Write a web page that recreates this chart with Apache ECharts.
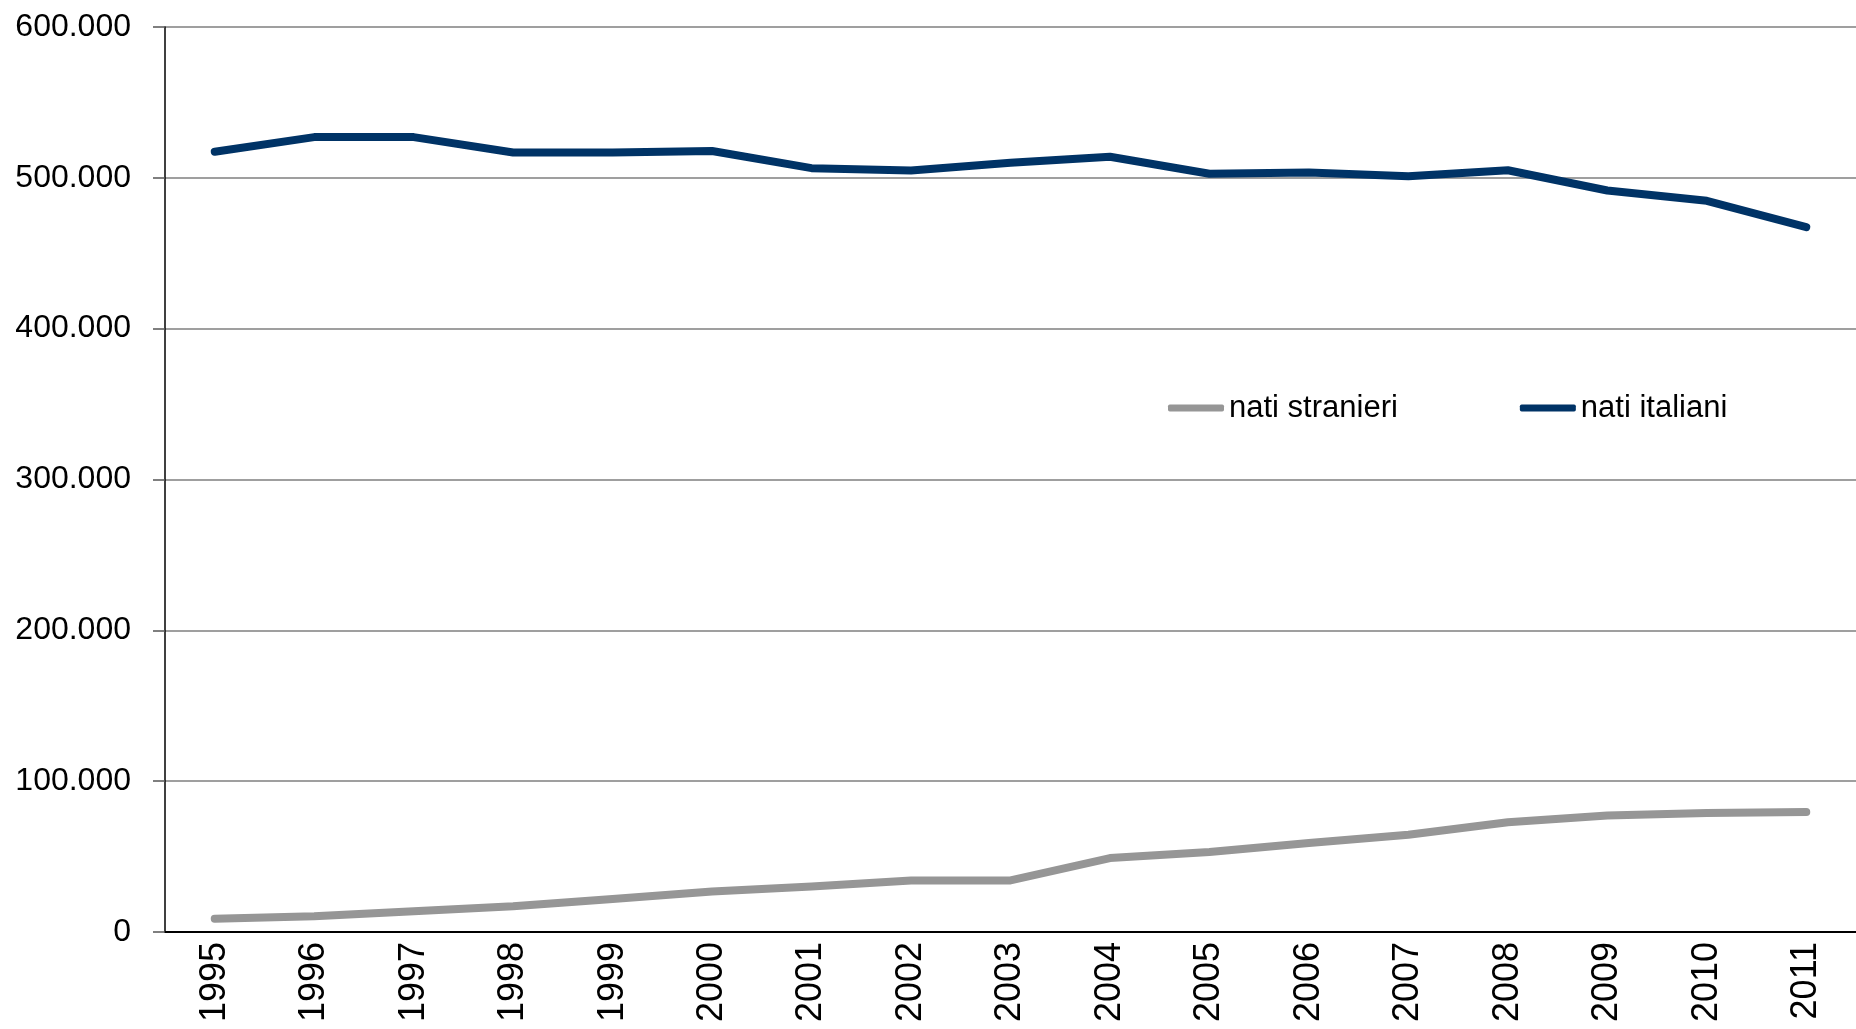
<!DOCTYPE html>
<html>
<head>
<meta charset="utf-8">
<script src="https://cdn.jsdelivr.net/npm/echarts@6/dist/echarts.min.js"></script>
<style>
  html, body { margin: 0; padding: 0; background: #fff; }
  #chart { width: 1856px; height: 1029px; }
</style>
</head>
<body>
<div id="chart"></div>
<script>
// Nati in Italia per cittadinanza della madre, 1995-2011
const anni = ['1995','1996','1997','1998','1999','2000','2001','2002','2003',
              '2004','2005','2006','2007','2008','2009','2010','2011'];
const natiStranieri = [8800, 10400, 13700, 17000, 21900, 26900, 30200, 34200, 34200,
                       49000, 53000, 59000, 64500, 72700, 77300, 78900, 79600];
const natiItaliani = [517300, 527000, 527000, 516800, 516800, 517800, 506400, 504900, 510000,
                      514000, 502700, 503500, 501000, 505000, 491600, 484800, 467300];
const yTicks = { min: 0, max: 600000, interval: 100000 };

const FONT = "'Liberation Sans Narrow', 'Arial Narrow', 'Liberation Sans', Arial, sans-serif";
const fmt = v => String(v).replace(/\B(?=(\d{3})+(?!\d))/g, '.');

const chart = echarts.init(document.getElementById('chart'));
chart.setOption({
  animation: false,
  backgroundColor: '#ffffff',
  grid: { left: 165, right: 0, top: 27, bottom: 97, containLabel: false, outerBoundsMode: 'none' },
  legend: {
    left: 1163,
    top: 385,
    itemWidth: 56,
    itemHeight: 7,
    itemGap: 122,
    icon: 'roundRect',
    data: ['nati stranieri', 'nati italiani'],
    textStyle: { fontFamily: FONT, fontSize: 31, color: '#000', lineHeight: 36 }
  },
  xAxis: {
    type: 'category',
    data: anni,
    boundaryGap: true,
    axisLine: { show: true, lineStyle: { color: '#000', width: 2 } },
    axisTick: { show: false },
    axisLabel: {
      rotate: 90,
      margin: 10,
      fontFamily: FONT,
      fontSize: 36,
      color: '#000',
      interval: 0
    },
    splitLine: { show: false }
  },
  yAxis: {
    type: 'value',
    min: yTicks.min,
    max: yTicks.max,
    interval: yTicks.interval,
    axisLine: { show: true, lineStyle: { color: '#000', width: 1.5 } },
    axisTick: { show: true, length: 12, lineStyle: { color: '#555', width: 1.5 } },
    axisLabel: {
      margin: 34,
      fontFamily: FONT,
      fontSize: 32,
      color: '#000',
      formatter: fmt
    },
    splitLine: { show: true, lineStyle: { color: '#7f7f7f', width: 1.5 } }
  },
  series: [
    {
      name: 'nati stranieri',
      type: 'line',
      data: natiStranieri,
      showSymbol: false,
      symbol: 'none',
      color: '#969696',
      lineStyle: { color: '#969696', width: 8, cap: 'round', join: 'round' },
      itemStyle: { color: '#969696' }
    },
    {
      name: 'nati italiani',
      type: 'line',
      data: natiItaliani,
      showSymbol: false,
      symbol: 'none',
      color: '#003366',
      lineStyle: { color: '#003366', width: 8, cap: 'round', join: 'round' },
      itemStyle: { color: '#003366' }
    }
  ]
});
</script>
</body>
</html>
